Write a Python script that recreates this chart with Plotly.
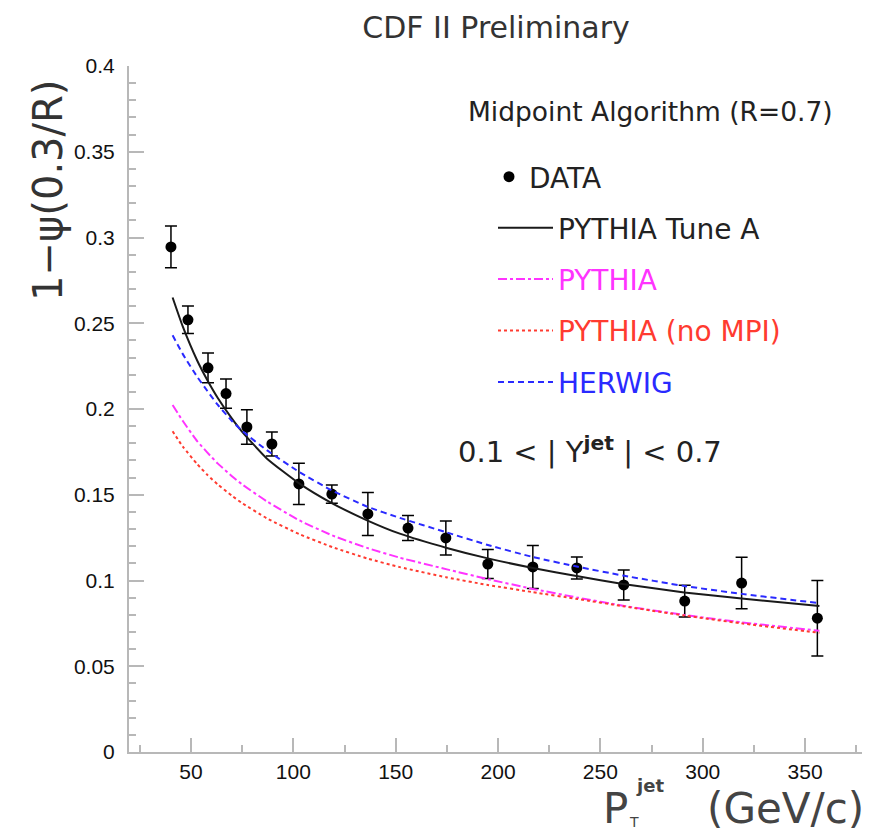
import plotly.graph_objects as go

# ---- data ----
pt_data = [40.2, 48.5, 58.3, 67.1, 77.3, 89.5, 102.7, 118.8, 136.4, 156.0,
           174.5, 195.0, 217.0, 238.5, 261.4, 291.2, 319.0, 356.0]
psi_data = [0.2945, 0.252, 0.224, 0.209, 0.1895, 0.1796, 0.1563, 0.1504, 0.1388, 0.1306,
            0.1248, 0.1096, 0.1079, 0.1073, 0.0974, 0.088, 0.0985, 0.078]
psi_err = [0.0122, 0.008, 0.0087, 0.0085, 0.010, 0.007, 0.012, 0.0053, 0.0125, 0.0073,
           0.0099, 0.0085, 0.0125, 0.0064, 0.0087, 0.0093, 0.015, 0.022]

curve_pt = [41, 46, 53, 58, 63, 70, 75, 87, 103, 119, 136, 152, 175, 195, 217, 239, 261, 291, 319, 357]
pythia_tuneA = [0.265, 0.248, 0.2283, 0.2168, 0.2066, 0.1944, 0.1867, 0.1712, 0.1565, 0.1450,
                0.1351, 0.1273, 0.1190, 0.1129, 0.1073, 0.1025, 0.0980, 0.0930, 0.0895, 0.0852]
herwig = [0.243, 0.232, 0.2188, 0.2105, 0.2025, 0.193, 0.1872, 0.1760, 0.1632, 0.1524,
          0.1431, 0.1365, 0.1280, 0.1207, 0.1137, 0.1080, 0.1029, 0.0968, 0.0922, 0.0868]
pythia = [0.2023, 0.1930, 0.1813, 0.1746, 0.1683, 0.1608, 0.1560, 0.1462, 0.1350, 0.1263,
          0.1190, 0.1133, 0.1065, 0.1008, 0.0951, 0.0900, 0.0853, 0.0799, 0.0756, 0.0707]
pythia_nompi = [0.187, 0.1781, 0.1679, 0.1616, 0.1561, 0.1494, 0.1451, 0.1363, 0.1270, 0.1195,
                0.1129, 0.1078, 0.1018, 0.0974, 0.0932, 0.0892, 0.0850, 0.0796, 0.0750, 0.0695]

x_ticks = [50, 100, 150, 200, 250, 300, 350]
y_ticks = [0, 0.05, 0.1, 0.15, 0.2, 0.25, 0.3, 0.35, 0.4]

FONT = "DejaVu Sans"
MAG = "#ff33ff"
RED = "#ff3b30"
BLUE = "#2a2aff"

fig = go.Figure()

fig.add_trace(go.Scatter(
    x=pt_data, y=psi_data, mode="markers", name="DATA", legend="legend2",
    marker=dict(color="black", size=11),
    error_y=dict(type="data", array=psi_err, color="black", thickness=1.5, width=6),
))
fig.add_trace(go.Scatter(
    x=curve_pt, y=pythia_tuneA, mode="lines", name="PYTHIA Tune A", legendgroup="b",
    line=dict(color="#1a1a1a", width=2, shape="spline", smoothing=0.5),
))
fig.add_trace(go.Scatter(
    x=curve_pt, y=pythia, mode="lines", legendgroup="c",
    name=f"<span style='color:{MAG}'>PYTHIA</span>",
    line=dict(color=MAG, width=2, dash="dashdot", shape="spline", smoothing=0.5),
))
fig.add_trace(go.Scatter(
    x=curve_pt, y=pythia_nompi, mode="lines", legendgroup="d",
    name=f"<span style='color:{RED}'>PYTHIA (no MPI)</span>",
    line=dict(color=RED, width=2, dash="dot", shape="spline", smoothing=0.5),
))
fig.add_trace(go.Scatter(
    x=curve_pt, y=herwig, mode="lines", legendgroup="e",
    name=f"<span style='color:{BLUE}'>HERWIG</span>",
    line=dict(color=BLUE, width=2, dash="6px,4px", shape="spline", smoothing=0.5),
))

# page has an 8px body margin: figure is shifted by (8, 8)
OFF = 8
W, H = 870 - OFF, 833 - OFF
L, R, T, B = 129, 863, 66, 752   # plot area in page pixels


def px(xp):
    return (xp - L) / (R - L)


def py(yp):
    return (B - yp) / (B - T)


axis_col = "#b8b8b8"
leg_font = dict(family=FONT, size=28, color="#222")
fig.update_layout(
    width=W, height=H,
    margin=dict(l=L - OFF, r=W - (R - OFF), t=T - OFF, b=H - (B - OFF)),
    plot_bgcolor="white", paper_bgcolor="white",
    font=dict(family=FONT, color="#222"),
    title=dict(text="CDF II Preliminary", x=(496 - OFF) / W, xanchor="center",
               y=1 - (27 - OFF) / H, yanchor="middle", yref="container",
               font=dict(family=FONT, size=30, color="#333")),
    showlegend=True,
    legend=dict(x=px(493), y=py(203), xanchor="left", yanchor="top",
                bgcolor="rgba(0,0,0,0)", font=leg_font,
                tracegroupgap=12, itemwidth=55),
    legend2=dict(x=px(489), y=py(152), xanchor="left", yanchor="top",
                 bgcolor="rgba(0,0,0,0)", font=leg_font, itemwidth=30),
    xaxis=dict(range=[19.7, 378.3], tickvals=x_ticks, ticks="inside", ticklen=14,
               tickwidth=1.5, tickcolor=axis_col, showline=True, linecolor=axis_col,
               linewidth=2, showgrid=False, zeroline=False, ticklabelstandoff=0,
               tickfont=dict(family="Liberation Sans", size=21, color="#111"),
               minor=dict(ticks="inside", dtick=25, tick0=0, ticklen=7,
                          tickcolor=axis_col, tickwidth=1.5, showgrid=False)),
    yaxis=dict(range=[0, 0.4], tickvals=y_ticks, ticks="inside", ticklen=15,
               tickwidth=1.5, tickcolor=axis_col, showline=True, linecolor=axis_col,
               linewidth=2, showgrid=False, zeroline=False, ticklabelstandoff=8,
               tickfont=dict(family="Liberation Sans", size=21, color="#111"),
               minor=dict(ticks="inside", dtick=0.01, tick0=0, ticklen=7,
                          tickcolor=axis_col, tickwidth=1.5, showgrid=False)),
)

ann = []
ann.append(dict(text="1\u2212\u03c8(0.3/R)", x=px(48), y=py(191), xref="paper", yref="paper",
                textangle=-90, showarrow=False, font=dict(family=FONT, size=40, color="#333"),
                xanchor="center", yanchor="middle"))
ann.append(dict(text="Midpoint Algorithm (R=0.7)", x=px(650), y=py(111), xref="paper",
                yref="paper", showarrow=False, xanchor="center", yanchor="middle",
                font=dict(family=FONT, size=26.5, color="#222")))
ann.append(dict(text="0.1 &lt; | Y<sup><b>jet</b></sup> | &lt; 0.7", x=px(590), y=py(450),
                xref="paper", yref="paper", showarrow=False, xanchor="center",
                yanchor="middle", font=dict(family=FONT, size=29, color="#222")))
# x-axis title pieces
ann.append(dict(text="P", x=px(601), y=py(808), xref="paper", yref="paper", showarrow=False,
                xanchor="left", yanchor="middle", font=dict(family=FONT, size=42, color="#444")))
ann.append(dict(text="T", x=px(627), y=py(822), xref="paper", yref="paper", showarrow=False,
                xanchor="left", yanchor="middle", font=dict(family=FONT, size=14, color="#444")))
ann.append(dict(text="<b>jet</b>", x=px(634), y=py(786), xref="paper", yref="paper",
                showarrow=False, xanchor="left", yanchor="middle",
                font=dict(family=FONT, size=18, color="#444")))
ann.append(dict(text="(GeV/c)", x=px(866), y=py(808), xref="paper", yref="paper",
                showarrow=False, xanchor="right", yanchor="middle",
                font=dict(family=FONT, size=42, color="#444")))
fig.update_layout(annotations=ann)

fig.write_html("out.html")
